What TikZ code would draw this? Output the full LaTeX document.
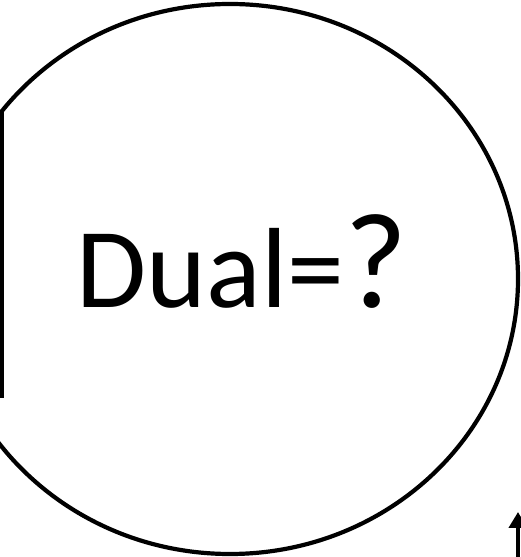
\documentclass[tikz,border=0pt]{standalone}
\usepackage{fontspec}
\setmainfont{Carlito}
\usetikzlibrary{arrows.meta}
\begin{document}
\begin{tikzpicture}[x=1pt,y=1pt,
  outline/.style={line width=4.2pt,draw=black},
  label/.style={font=\fontsize{114}{130}\selectfont,anchor=base,inner sep=0pt}]
\useasboundingbox (0,0) rectangle (521,557);
\clip (0,0) rectangle (521,557);
\coordinate (c) at (230,278);
\draw[outline] (c) ellipse [x radius=288, y radius=275];
\node[label] (t) at (242,249) {Dual={\fontsize{136}{150}\selectfont ?}};
\coordinate (l1) at (2,445);
\coordinate (l2) at (2,159);
\draw[outline] (l1) -- (l2);
\coordinate (a0) at (518,-5);
\coordinate (a1) at (518,45);
\draw[line width=4pt,-{Triangle[length=16pt,width=18pt]}] (a0) -- (a1);
\end{tikzpicture}
\end{document}
